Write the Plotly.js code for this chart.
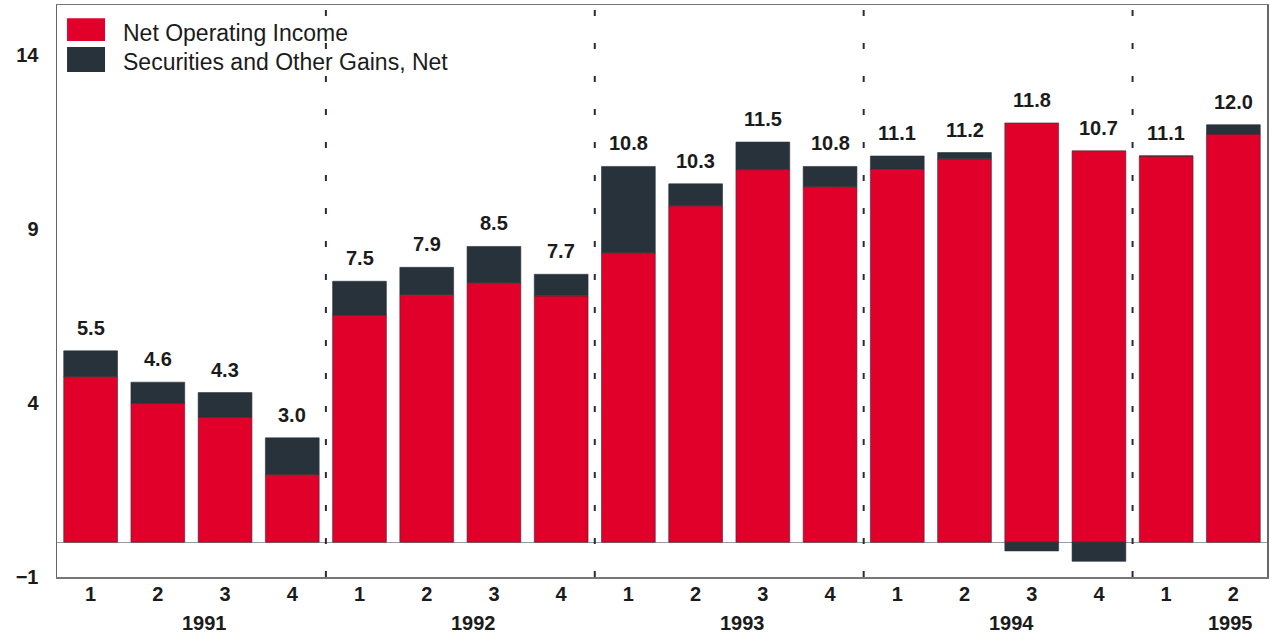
<!DOCTYPE html>
<html><head><meta charset="utf-8">
<script src="https://cdn.plot.ly/plotly-3.0.1.min.js"></script>
<style>html,body{margin:0;padding:0;background:#fff}#chart{width:1270px;height:641px}</style>
</head><body><div id="chart"></div>
<script>
// ---- data ----
const quarters = ["1","2","3","4","1","2","3","4","1","2","3","4","1","2","3","4","1","2"];
const quarterYears = ["1991","1991","1991","1991","1992","1992","1992","1992","1993","1993","1993","1993","1994","1994","1994","1994","1995","1995"];
const years = ["1991","1992","1993","1994","1995"];
const netOperatingIncome = [4.76,4.0,3.6,1.95,6.53,7.12,7.46,7.08,8.32,9.67,10.71,10.22,10.72,11.02,12.05,11.25,11.1,11.73];
const securitiesGains   = [0.74,0.6,0.7,1.05,0.97,0.78,1.04,0.62,2.48,0.63,0.79,0.58,0.38,0.18,-0.25,-0.55,0,0.27];
const totalLabels = ["5.5","4.6","4.3","3.0","7.5","7.9","8.5","7.7","10.8","10.3","11.5","10.8","11.1","11.2","11.8","10.7","11.1","12.0"];
const seriesNames = ["Net Operating Income","Securities and Other Gains, Net"];
const yTickVals = [-1,4,9,14];

// ---- styles ----
const RED = "#e1002a", DARK = "#28323b", TXT = "#1b1b1b";
const SANS = "'Liberation Sans', Arial, Helvetica, sans-serif";

const xIdx = quarters.map((_, i) => i);

const traces = [
  {type:"bar", x:xIdx, y:netOperatingIncome, name:seriesNames[0],
   marker:{color:RED, line:{color:"#3a2a3a", width:0.6}}, hoverinfo:"y"},
  {type:"bar", x:xIdx, y:securitiesGains, name:seriesNames[1],
   marker:{color:DARK, line:{color:DARK, width:0.6}}, hoverinfo:"y"}
];

const annotations = [];
xIdx.forEach(i => {
  const top = netOperatingIncome[i] + Math.max(securitiesGains[i], 0);
  annotations.push({x:i, y:top, xref:"x", yref:"y", text:totalLabels[i], showarrow:false,
    yanchor:"bottom", yshift:10, font:{family:SANS, size:20, color:TXT, weight:"bold"}});
});
// year labels
years.forEach(yr => {
  const idx = xIdx.filter(i => quarterYears[i] === yr);
  const center = idx.reduce((a,b)=>a+b,0)/idx.length;
  const off = idx.length === 2 ? 0.45 : 0.2;
  annotations.push({x:center+off, y:0, xref:"x", yref:"paper", text:yr, showarrow:false,
    yanchor:"middle", yshift:-46, font:{family:SANS, size:20, color:TXT, weight:"bold"}});
});
// manual legend text
annotations.push({x:0.0529, y:0.951, xref:"paper", yref:"paper", xanchor:"left", yanchor:"middle",
  text:seriesNames[0], showarrow:false, font:{family:SANS, size:23, color:TXT}});
annotations.push({x:0.0529, y:0.901, xref:"paper", yref:"paper", xanchor:"left", yanchor:"middle",
  text:seriesNames[1], showarrow:false, font:{family:SANS, size:23, color:TXT}});

const shapes = [];
// year separators
for (let k = 1; k < years.length; k++) {
  const b = xIdx.find(i => quarterYears[i] === years[k]) - 0.5;
  shapes.push({type:"line", xref:"x", yref:"paper", x0:b, x1:b, y0:0, y1:1,
    line:{color:"#2a2a3a", width:2, dash:"6px,27px"}, layer:"above"});
}
// legend swatches
shapes.push({type:"rect", xref:"paper", yref:"paper", x0:0.0083, x1:0.0397, y0:0.937, y1:0.977,
  fillcolor:RED, line:{width:0}});
shapes.push({type:"rect", xref:"paper", yref:"paper", x0:0.0083, x1:0.0397, y0:0.883, y1:0.9266,
  fillcolor:DARK, line:{width:0}});

const layout = {
  width:1270, height:641,
  margin:{l:57, r:3, t:5, b:64},
  paper_bgcolor:"#fff", plot_bgcolor:"#fff",
  barmode:"relative", bargap:0.2,
  showlegend:false,
  xaxis:{range:[-0.5, 17.5], tickmode:"array", tickvals:xIdx, ticktext:quarters,
    showgrid:false, zeroline:false, showline:true, mirror:true, linecolor:"#777", linewidth:1.5,
    ticks:"", ticklabelstandoff:-2, tickfont:{family:SANS, size:20, color:TXT, weight:"bold"}},
  yaxis:{range:[-1, 15.44], tickmode:"array", tickvals:yTickVals,
    showgrid:false, zeroline:true, zerolinecolor:"#9a9a9a", zerolinewidth:1,
    showline:true, mirror:true, linecolor:"#666", linewidth:1.5,
    ticks:"", ticklabelstandoff:13, tickfont:{family:SANS, size:20, color:TXT, weight:"bold"}},
  annotations:annotations,
  shapes:shapes
};

Plotly.newPlot("chart", traces, layout, {displayModeBar:false, staticPlot:true});
</script>
</body></html>
